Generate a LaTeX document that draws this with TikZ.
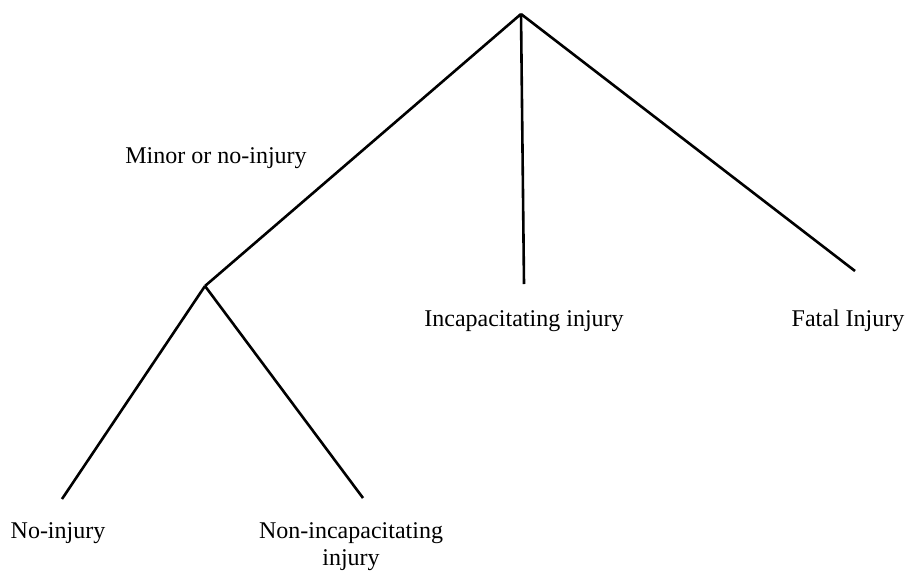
\documentclass[tikz,border=0pt]{standalone}
\usepackage{fontspec}
\setmainfont{Liberation Serif}
\usetikzlibrary{positioning}

\begin{document}
\begin{tikzpicture}[x=1pt,y=-1pt,line width=2.6pt,every node/.style={font=\fontsize{24}{27}\selectfont,inner sep=0pt}]
  \useasboundingbox (0,0) rectangle (907,571);
  \coordinate (root) at (521,14);
  \coordinate (minor) at (205,286);
  \coordinate (incap) at (524,284);
  \coordinate (fatal) at (855,271);
  \coordinate (noinj) at (62,499);
  \coordinate (nonincap) at (363,498);

  \node (lminor) at (216,158) {Minor or no-injury};
  \node (lincap) at (524,321) {Incapacitating injury};
  \node (lfatal) at (848,321) {Fatal Injury};
  \node (lnoinj) at (58,533) {No-injury};
  \node[align=center] (lnonincap) at (351,547) {Non-incapacitating\\injury};

  \path[draw] (root) edge (minor)
               edge (incap)
               edge (fatal)
        (minor) edge (noinj)
               edge (nonincap);
\end{tikzpicture}
\end{document}
